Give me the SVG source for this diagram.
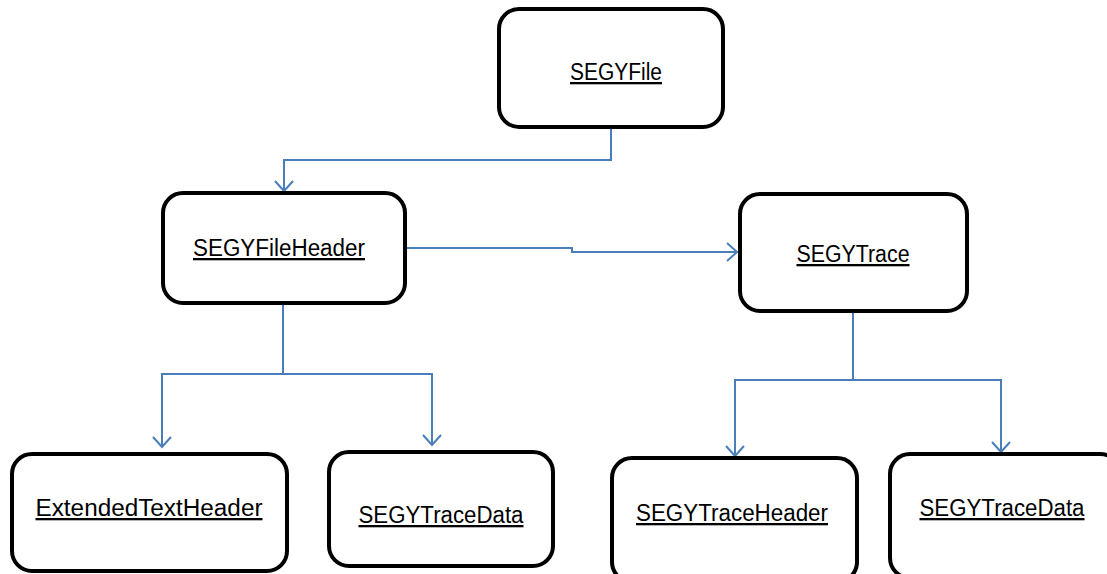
<svg xmlns="http://www.w3.org/2000/svg" width="1107" height="574" viewBox="0 0 1107 574">
<style>
.box{fill:#fff;stroke:#000;stroke-width:4}
.lbl{font-family:"Liberation Sans",Arial,sans-serif;font-size:23px;fill:#000;text-anchor:middle;text-decoration:underline}
.con{fill:none;stroke:#4a7ebb;stroke-width:2}
</style>
<defs>
<marker id="arr" markerUnits="userSpaceOnUse" markerWidth="24" markerHeight="24" refX="20" refY="10" orient="auto" viewBox="0 0 24 24">
<path d="M10,1 L20,10 L10,19" fill="none" stroke="#4a7ebb" stroke-width="2"/>
</marker>
</defs>
<rect width="1107" height="574" fill="#fff"/>
<g id="connectors">
<path class="con" d="M611,128 V160 H284 V191" marker-end="url(#arr)"/>
<path class="con" d="M405,248 H572 V252 H737" marker-end="url(#arr)"/>
<path class="con" d="M283,304 V374 H162 V447" marker-end="url(#arr)"/>
<path class="con" d="M283,374 H432 V445" marker-end="url(#arr)"/>
<path class="con" d="M853,312 V380 H735 V456" marker-end="url(#arr)"/>
<path class="con" d="M853,380 H1001 V452" marker-end="url(#arr)"/>
</g>
<g id="SEGYFile">
<rect class="box" x="499" y="9" width="224" height="118" rx="20"/>
<text class="lbl" x="616" y="80" textLength="92" lengthAdjust="spacingAndGlyphs">SEGYFile</text>
</g>
<g id="SEGYFileHeader">
<rect class="box" x="163" y="193" width="242" height="110" rx="20"/>
<text class="lbl" x="279" y="256" textLength="172" lengthAdjust="spacingAndGlyphs">SEGYFileHeader</text>
</g>
<g id="SEGYTrace">
<rect class="box" x="740" y="194" width="227" height="117" rx="20"/>
<text class="lbl" x="853" y="262" textLength="113" lengthAdjust="spacingAndGlyphs">SEGYTrace</text>
</g>
<g id="ExtendedTextHeader">
<rect class="box" x="12" y="454" width="275" height="117" rx="20"/>
<text class="lbl" x="149" y="516" textLength="227" lengthAdjust="spacingAndGlyphs">ExtendedTextHeader</text>
</g>
<g id="SEGYTraceData1">
<rect class="box" x="329" y="452" width="224" height="114" rx="20"/>
<text class="lbl" x="441" y="523" textLength="165" lengthAdjust="spacingAndGlyphs">SEGYTraceData</text>
</g>
<g id="SEGYTraceHeader">
<rect class="box" x="612" y="458" width="245" height="124" rx="20"/>
<text class="lbl" x="732" y="521" textLength="192" lengthAdjust="spacingAndGlyphs">SEGYTraceHeader</text>
</g>
<g id="SEGYTraceData2">
<rect class="box" x="890" y="454" width="230" height="124" rx="20"/>
<text class="lbl" x="1002" y="516" textLength="165" lengthAdjust="spacingAndGlyphs">SEGYTraceData</text>
</g>
</svg>
